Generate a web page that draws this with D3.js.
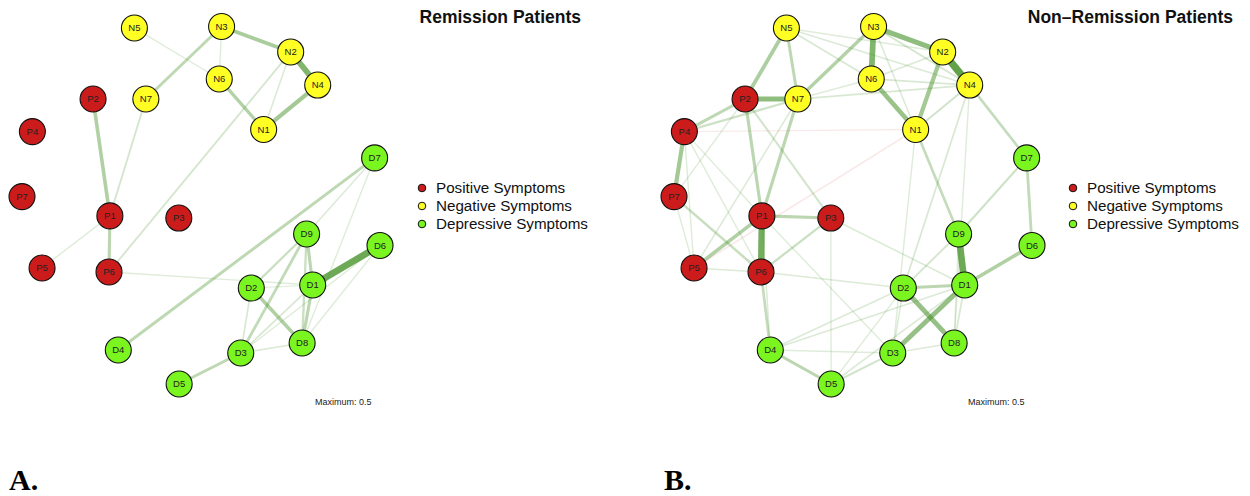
<!DOCTYPE html>
<html>
<head>
<meta charset="utf-8">
<script src="https://cdn.jsdelivr.net/npm/d3@7.9.0/dist/d3.min.js"></script>
<style>
  body { margin: 0; background: #fff; }
  svg { display: block; }
</style>
</head>
<body>
<div id="chart"></div>
<script>
// node ids, groups and the (shared) layout coordinates, qgraph style in [-1, 1]
const nodeIds = ["P1","P2","P3","P4","P5","P6","P7","N1","N2","N3","N4","N5","N6","N7","D1","D2","D3","D4","D5","D6","D7","D8","D9"];
const layoutX = [-0.509,-0.603,-0.124,-0.942,-0.888,-0.514,-1.000, 0.350,0.501,0.115,0.652,-0.372,0.102,-0.308, 0.624,0.281,0.222,-0.462,-0.122,1.000,0.970,0.565,0.590];
const layoutY = [-0.061,0.592,-0.073,0.410,-0.352,-0.374,0.047, 0.422,0.855,0.997,0.670,0.989,0.704,0.592, -0.447,-0.464,-0.827,-0.810,-1.000,-0.226,0.263,-0.771,-0.162];

const groupNames = ["Positive Symptoms", "Negative Symptoms", "Depressive Symptoms"];
const groupColors = ["#cc1b1b", "#ffff24", "#7af51f"];

const maximum = 0.5;

// edges: [from, to, partial correlation]
const edgesRemission = [
  ["N3","N2",0.20],["N2","N4",0.32],["N4","N1",0.22],["N6","N1",0.17],["N3","N6",0.04],
  ["N3","N7",0.14],["N5","N6",0.04],["N2","N1",0.05],["N2","P6",0.07],["P2","P1",0.18],
  ["N7","P1",0.07],["P1","P6",0.15],["P1","P5",0.04],["P6","D1",0.04],["D7","D4",0.14],
  ["D7","D9",0.05],["D7","D8",0.04],["D1","D6",0.38],["D9","D1",0.15],["D9","D8",0.10],
  ["D1","D8",0.15],["D9","D2",0.10],["D9","D3",0.13],["D2","D8",0.18],["D2","D3",0.06],
  ["D3","D5",0.14],["D3","D8",0.05],["D3","D1",0.06],["D6","D8",0.04],["D6","D3",0.04],
  ["D2","D1",0.03]
];

const edgesNonRemission = [
  ["N2","N4",0.42],["N3","N6",0.32],["N3","N2",0.28],["N6","N1",0.25],["N2","N1",0.22],
  ["N4","N1",0.08],["N3","N4",0.07],["N3","N1",0.05],["N6","N4",0.06],["N6","N2",0.05],
  ["N5","N6",0.06],["N5","N4",0.05],["N5","N2",0.04],["N7","N3",0.17],["N7","N4",0.06],
  ["N5","N7",0.14],["N5","P2",0.19],["P2","N7",0.28],["N7","N6",0.04],
  ["P2","P4",0.14],["N7","P4",0.09],["P2","P1",0.15],["N7","P1",0.15],["P2","P3",0.08],
  ["P4","P7",0.22],["P4","N1",-0.04],["P5","N1",-0.05],["P4","P5",0.04],["P4","P6",0.04],
  ["P7","P5",0.04],["P7","P6",0.11],["P1","P3",0.15],["P1","P6",0.36],["P1","P5",0.18],
  ["P6","P3",0.10],["P5","P6",0.05],["P6","D4",0.12],["P1","D4",0.05],["P6","D2",0.05],
  ["P3","D1",0.05],["P1","D3",0.04],["N7","P5",0.05],["P2","P7",0.04],["P4","P1",0.04],
  ["D4","D5",0.15],["D4","D2",0.05],["D4","D1",0.05],["D4","D3",0.04],["D5","D3",0.08],
  ["D5","D1",0.05],["D5","D2",0.04],["D3","D1",0.26],["D2","D8",0.26],["D2","D1",0.15],
  ["D9","D1",0.38],["D1","D6",0.18],["D6","D7",0.13],["D7","D9",0.09],["N4","D7",0.12],
  ["N1","D9",0.12],["N4","D2",0.06],["N4","D8",0.04],["N1","D3",0.04],["D8","D1",0.06],
  ["D8","D3",0.05],["D9","D2",0.07],["D9","D8",0.04],["D2","D3",0.05],["P3","D5",0.04]
];

const panels = [
  { title: "Remission Patients", edges: edgesRemission, letter: "A." },
  { title: "Non\u2013Remission Patients", edges: edgesNonRemission, letter: "B." }
];

const width = 1250, height = 496;

const svg = d3.select("#chart").append("svg")
  .attr("width", width).attr("height", height)
  .attr("viewBox", `0 0 ${width} ${height}`);

svg.append("rect").attr("width", width).attr("height", height).attr("fill", "#fff");

const nodes = nodeIds.map((id, i) => ({
  id, x: layoutX[i], y: layoutY[i],
  group: id[0] === "P" ? 0 : id[0] === "N" ? 1 : 2
}));
const byId = new Map(nodes.map(d => [d.id, d]));

const widthScale = d3.scaleLinear().domain([0, maximum]).range([0.8, 8.5]);
const alphaScale = d3.scaleLinear().domain([0, maximum]).range([0.1, 1]).clamp(true);

const panelLeft = [22, 674];
const panelSpan = 358;
const nodeR = 13;

panels.forEach((p, k) => {
  const x = d3.scaleLinear().domain([-1, 1]).range([panelLeft[k], panelLeft[k] + panelSpan]);
  const y = d3.scaleLinear().domain([-1, 1]).range([384, 26]);

  const g = svg.append("g");

  const sorted = d3.sort(p.edges, d => Math.abs(d[2]));
  g.append("g").selectAll("line")
    .data(sorted)
    .join("line")
    .attr("x1", d => x(byId.get(d[0]).x))
    .attr("y1", d => y(byId.get(d[0]).y))
    .attr("x2", d => x(byId.get(d[1]).x))
    .attr("y2", d => y(byId.get(d[1]).y))
    .attr("stroke", d => d[2] > 0 ? "rgb(70,145,40)" : "rgb(190,20,20)")
    .attr("stroke-opacity", d => alphaScale(Math.abs(d[2])) * (d[2] < 0 ? 0.5 : 1))
    .attr("stroke-width", d => widthScale(Math.abs(d[2])));

  const nd = g.append("g").selectAll("g")
    .data(nodes)
    .join("g")
    .attr("transform", d => `translate(${x(d.x)},${y(d.y)})`);

  nd.append("circle")
    .attr("r", nodeR)
    .attr("fill", d => groupColors[d.group])
    .attr("stroke", "#111")
    .attr("stroke-width", 1.1);

  nd.append("text")
    .attr("text-anchor", "middle")
    .attr("dy", "0.35em")
    .attr("font-family", "Liberation Sans, Arial, sans-serif")
    .attr("font-size", 9.5)
    .attr("fill", "#222")
    .text(d => d.id);

  // title, right aligned
  const titleRight = k === 0 ? 581 : 1233;
  g.append("text")
    .attr("x", titleRight).attr("y", 23)
    .attr("text-anchor", "end")
    .attr("font-family", "Liberation Sans, Arial, sans-serif")
    .attr("font-weight", "bold")
    .attr("font-size", 17.5)
    .attr("fill", "#111")
    .text(p.title);

  // legend
  const legX = k === 0 ? 422 : 1073;
  const leg = g.append("g").selectAll("g")
    .data(groupNames)
    .join("g")
    .attr("transform", (d, i) => `translate(${legX},${188 + i * 18})`);
  leg.append("circle")
    .attr("r", 3.8)
    .attr("fill", (d, i) => groupColors[i])
    .attr("stroke", "#111")
    .attr("stroke-width", 1);
  leg.append("text")
    .attr("x", 14).attr("dy", "0.35em")
    .attr("font-family", "Liberation Sans, Arial, sans-serif")
    .attr("font-size", 15.2)
    .attr("fill", "#111")
    .text(d => d);

  // maximum note
  g.append("text")
    .attr("x", k === 0 ? 315 : 968).attr("y", 405)
    .attr("font-family", "Liberation Sans, Arial, sans-serif")
    .attr("font-size", 9)
    .attr("fill", "#222")
    .text(`Maximum: ${maximum}`);

  // panel letter
  g.append("text")
    .attr("x", k === 0 ? 9 : 664).attr("y", 490)
    .attr("font-family", "Liberation Serif, Times New Roman, serif")
    .attr("font-weight", "bold")
    .attr("font-size", 30)
    .attr("fill", "#000")
    .text(p.letter);
});
</script>
</body>
</html>
